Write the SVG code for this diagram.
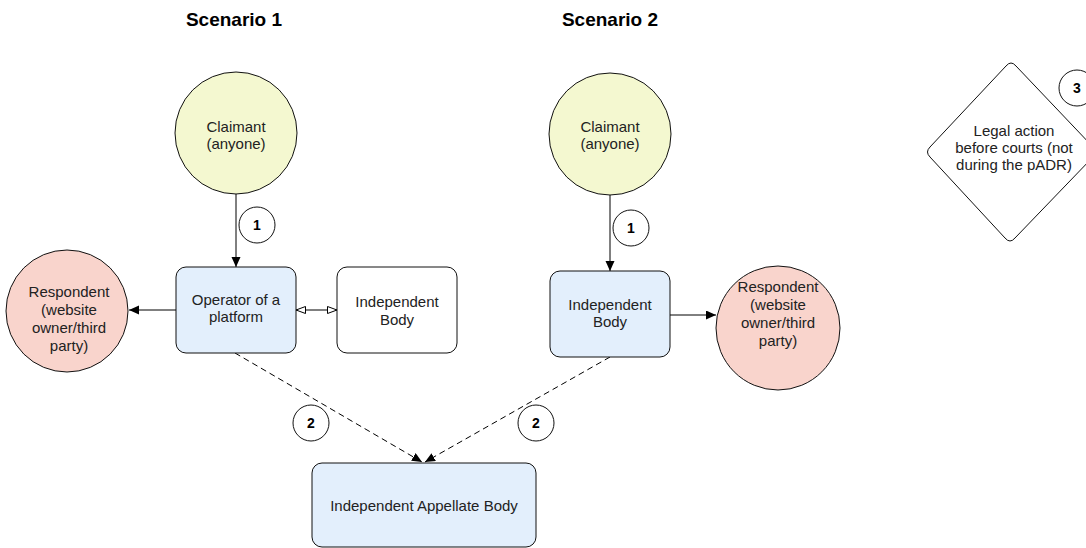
<svg xmlns="http://www.w3.org/2000/svg" width="1086" height="548" viewBox="0 0 1086 548">
<style>
text{font-family:"Liberation Sans",Arial,sans-serif;font-size:15px;fill:#222;text-anchor:middle}
.title{font-size:19px;font-weight:bold;fill:#000}
.num{font-size:14px;font-weight:bold;fill:#000}
.claim{fill:#f4f8d0;stroke:#111;stroke-width:1}
.resp{fill:#f9d4cc;stroke:#111;stroke-width:1}
.blue{fill:#e3effc;stroke:#111;stroke-width:1}
.white{fill:#fff;stroke:#111;stroke-width:1}
.badge{fill:#fff;stroke:#111;stroke-width:1}
.c{fill:none;stroke:#000;stroke-width:1}
.d{fill:none;stroke:#000;stroke-width:1;stroke-dasharray:6 4}
</style>
<defs>
<marker id="ah" markerUnits="userSpaceOnUse" markerWidth="12" markerHeight="10" refX="10" refY="4.5" orient="auto">
<path d="M0,0 L10,4.5 L0,9 Z" fill="#000"/>
</marker>
<marker id="oh" markerUnits="userSpaceOnUse" markerWidth="12" markerHeight="10" refX="10" refY="4" orient="auto-start-reverse">
<path d="M0.5,0.5 L10,4 L0.5,7.5 Z" fill="#fff" stroke="#000" stroke-width="1"/>
</marker>
</defs>

<text class="title" x="234" y="26">Scenario 1</text>
<text class="title" x="610" y="26">Scenario 2</text>

<g id="connectors">
<line class="c" x1="236" y1="194" x2="236" y2="267" marker-end="url(#ah)"/>
<line class="c" x1="176" y1="310" x2="129" y2="310" marker-end="url(#ah)"/>
<line class="c" x1="296" y1="310" x2="337" y2="310" marker-start="url(#oh)" marker-end="url(#oh)"/>
<line class="c" x1="610" y1="195" x2="610" y2="271" marker-end="url(#ah)"/>
<line class="c" x1="670" y1="315" x2="716" y2="315" marker-end="url(#ah)"/>
<line class="d" x1="235" y1="353" x2="422" y2="462" marker-end="url(#ah)"/>
<line class="d" x1="610" y1="357" x2="425" y2="462" marker-end="url(#ah)"/>
</g>

<g id="claimant1">
<circle class="claim" cx="236" cy="133" r="61"/>
<text x="236" y="132">Claimant</text>
<text x="236" y="149">(anyone)</text>
</g>
<g id="respondent1">
<circle class="resp" cx="67" cy="311" r="61"/>
<text x="69" y="297">Respondent</text>
<text x="69" y="315">(website</text>
<text x="69" y="333">owner/third</text>
<text x="69" y="351">party)</text>
</g>
<g id="operator">
<rect class="blue" x="176" y="267" width="120" height="86" rx="10"/>
<text x="236" y="305">Operator of a</text>
<text x="236" y="322">platform</text>
</g>
<g id="independent1">
<rect class="white" x="337" y="267" width="120" height="86" rx="10"/>
<text x="397" y="307">Independent</text>
<text x="397" y="325">Body</text>
</g>

<g id="claimant2">
<circle class="claim" cx="610" cy="134" r="61"/>
<text x="610" y="132">Claimant</text>
<text x="610" y="149">(anyone)</text>
</g>
<g id="independent2">
<rect class="blue" x="550" y="271" width="120" height="86" rx="10"/>
<text x="610" y="310">Independent</text>
<text x="610" y="327">Body</text>
</g>
<g id="respondent2">
<circle class="resp" cx="778" cy="328" r="62"/>
<text x="778" y="292">Respondent</text>
<text x="778" y="310">(website</text>
<text x="778" y="328">owner/third</text>
<text x="778" y="346">party)</text>
</g>

<g id="appellate">
<rect class="blue" x="312" y="463" width="224" height="84" rx="10"/>
<text x="424" y="511">Independent Appellate Body</text>
</g>

<g id="legal-action">
<path class="white" d="M1006,66 Q1011,60 1016,66 L1093,147 Q1097,152 1093,157 L1015,238 Q1010,244 1005,238 L930,157 Q925,152 930,147 Z"/>
<text x="1014" y="136">Legal action</text>
<text x="1014" y="153">before courts (not</text>
<text x="1014" y="170">during the pADR)</text>
</g>

<g id="labels">
<g id="badge1a"><circle class="badge" cx="257" cy="225" r="18"/><text class="num" x="257" y="230">1</text></g>
<g id="badge1b"><circle class="badge" cx="631" cy="228" r="18"/><text class="num" x="631" y="233">1</text></g>
<g id="badge2a"><circle class="badge" cx="311" cy="423" r="18"/><text class="num" x="311" y="428">2</text></g>
<g id="badge2b"><circle class="badge" cx="536" cy="423" r="18"/><text class="num" x="536" y="428">2</text></g>
<g id="badge3"><circle class="badge" cx="1077" cy="88" r="18"/><text class="num" x="1077" y="93">3</text></g>
</g>
</svg>
